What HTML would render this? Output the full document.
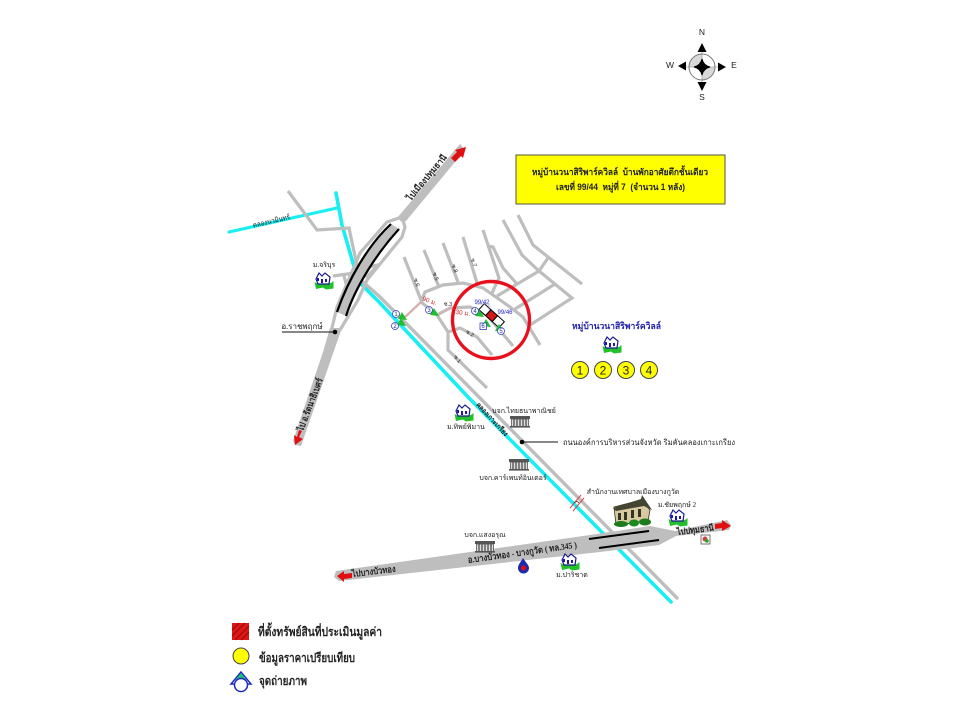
<!DOCTYPE html>
<html><head><meta charset="utf-8"><style>
html,body{margin:0;padding:0;background:#fff}
svg{display:block;filter:blur(.35px)}
text{font-family:"Liberation Serif","Noto Sans CJK SC",serif;fill:#222}
.s{font-family:"Liberation Sans","Noto Sans CJK SC",sans-serif}
.r{fill:none;stroke:#bebebe;stroke-width:3.2;stroke-linejoin:miter}
</style></head><body>
<svg width="960" height="720" viewBox="0 0 960 720" xmlns="http://www.w3.org/2000/svg">
<defs>
<g id="h">
<path d="M-9.500 1 L-8 8 L-1 6.500 L2 8.500 L9.500 7.500 L9.500 0 L7 2 L0 3 L-6 3 Z" fill="#22c02a"/>
<path d="M-8 -2 L-5 -8 L-2 -5 L1 -8 L6 -4 L5 3 L-6 3 Z" fill="#fff" stroke="#1a1a90" stroke-width="1.200"/>
<rect x="-3" y="-2" width="2" height="4" fill="#1a1ab0"/><rect x="1" y="-2" width="2" height="3" fill="#1a1ab0"/><rect x="-7" y="-3" width="2" height="3" fill="#1a1ab0"/>
</g>
<g id="f">
<rect x="-10" y="-6" width="20" height="3" fill="#555"/>
<rect x="-8.500" y="-3" width="17" height="8" fill="#ddd" stroke="#555" stroke-width=".8"/>
<path d="M-6 -3v8M-3 -3v8M0 -3v8M3 -3v8M6 -3v8" stroke="#444" stroke-width="1.200"/>
<rect x="-10" y="4" width="20" height="1.600" fill="#555"/>
</g>
<g id="t"><path d="M0 -4 L5 4 L-4 3 Z" fill="#1ec02c"/></g>
</defs>

<!-- compass -->
<circle cx="702" cy="67" r="13" fill="#d8d8d8"/>
<path d="M702 54 A13 13 0 0 1 715 67 L702 67Z M702 80 A13 13 0 0 1 689 67 L702 67Z" fill="#fff"/>
<circle cx="702" cy="67" r="13" fill="none" stroke="#777"/>
<path d="M702 50V84M685 67H719" stroke="#888" stroke-width=".6"/>
<path d="M702 59 Q703.500 65.500 710 67 Q703.500 68.500 702 75 Q700.500 68.500 694 67 Q700.500 65.500 702 59Z" fill="#000" stroke="#000" stroke-width="1"/>
<path d="M702 43l-4.500 9h9z M702 91l-4.500 -9h9z M678 66l8 -4.500v9z M726 67l-8 -4.500v9z" fill="#000"/>
<g font-size="8.500" text-anchor="middle"><text class="s" x="702" y="35">N</text><text class="s" x="702" y="100">S</text><text class="s" x="670" y="68">W</text><text class="s" x="734" y="68">E</text></g>

<!-- title box -->
<rect x="516" y="155" width="209" height="49" fill="#ff0" stroke="#554" stroke-width="1"/>
<text class="s" x="532" y="175" font-size="9" font-weight="bold" fill="#223" textLength="176" lengthAdjust="spacingAndGlyphs" xml:space="preserve">หมู่บ้านวนาสิริพาร์ควิลล์  บ้านพักอาศัยตึกชั้นเดียว</text>
<text class="s" x="556" y="190" font-size="9" font-weight="bold" fill="#223" textLength="129" lengthAdjust="spacingAndGlyphs" xml:space="preserve">เลขที่ 99/44  หมู่ที่ 7  (จำนวน 1 หลัง)</text>

<!-- canal -->
<polyline points="229,232 337,208" fill="none" stroke="#19eef2" stroke-width="3.200" stroke-linecap="round"/>
<polyline points="336,193 342,225 355,270 360,283 380,303 468,397 671,602" fill="none" stroke="#19eef2" stroke-width="3.600" stroke-linecap="round"/>
<!-- side road along canal -->
<polyline points="362,281 380,297 475,393 677,598" fill="none" stroke="#bebebe" stroke-width="3.400" stroke-linecap="round"/>
<polyline class="r" points="288,191 317,230 349,228 358,270"/>
<polyline class="r" points="333,276 355,273"/>
<polyline class="r" points="366,278 378,265 362,268"/>
<polyline class="r" points="344,276 347,287"/>

<!-- interchange -->
<polygon points="460,144 465,150 406,221 402,222 397,218" fill="#bebebe"/>
<polyline class="r" points="402,217 387,222 360,253 337,307 331,332" stroke-width="3"/>
<polyline class="r" points="402,217 405,227 402,237 367,280 358,300 340,330" stroke-width="3"/>
<path d="M391 224 C368 245 348 280 337 312 L346 316 C356 285 378 252 399 229Z" fill="#bebebe"/>
<path d="M391 224 C368 245 348 280 337 312" fill="none" stroke="#000" stroke-width="2.200"/>
<path d="M399 229 C378 252 356 285 346 316" fill="none" stroke="#000" stroke-width="2.200"/>
<polygon points="330,328 342,328 337,342 301,446 295,445 293,441 323,352" fill="#bebebe"/>
<path d="M302 431l-3 6 4 2 -8 6 -1 -10 3 2 2 -7z" fill="#e01010"/>
<path d="M466 147l-11 3 2 2 -6 6 4 4 6 -6 2 2z" fill="#e01010"/>

<!-- soi grid -->
<g class="r">
<polyline points="404,257 421,300"/>
<polyline points="424,250 439,287"/>
<polyline points="443,243 458,282"/>
<polyline points="463,237 477,283"/>
<polyline points="483,230 499,278 492,293"/>
<polyline points="421,302 425,292 443,285 463,283 483,288 510,307 523,317 540,345"/>
<polyline points="487,246 493,247 503,268 517,284"/>
<polyline points="497,296 539,271"/>
<polyline points="503,220 522,255 539,271 548,258"/>
<polyline points="518,215 533,245 582,284"/>
<polyline points="515,309 555,284"/>
<polyline points="539,271 572,298 530,325"/>
<polyline points="421,302 437,315 448,332 448,350 487,388"/>
<polyline points="437,315 450,308 470,307 487,315 513,346"/>
<polyline points="448,332 460,328 477,337 492,355"/>
</g>
<polyline points="421,302 404,318" fill="none" stroke="#d8b0b0" stroke-width="2.500"/>
<polyline points="437,315 452,308" fill="none" stroke="#d8b0b0" stroke-width="1.500"/>

<!-- red circle -->
<circle cx="491" cy="320" r="38.500" fill="none" stroke="#e8101c" stroke-width="3.400"/>

<!-- property -->
<g transform="translate(492,316) rotate(42)">
<rect x="-14" y="-4" width="9" height="8" fill="#fff" stroke="#000" stroke-width="1"/>
<rect x="-5" y="-4" width="9" height="8" fill="#d01818" stroke="#000" stroke-width="1"/>
<rect x="4" y="-4" width="9" height="8" fill="#fff" stroke="#000" stroke-width="1"/>
</g>
<text class="s" x="482" y="304" text-anchor="middle" style="fill:#2222cc" font-size="6">99/42</text>
<text class="s" x="505" y="314" text-anchor="middle" style="fill:#2222cc" font-size="6">99/46</text>
<polyline points="476,304 489,304 489,310" fill="none" stroke="#8888cc" stroke-width=".6"/>
<text class="s" x="430" y="303" font-size="6.500" style="fill:#d03030" text-anchor="middle" transform="rotate(20 430 300)">90 ม.</text>
<text class="s" x="463" y="315" font-size="6.500" style="fill:#d03030" text-anchor="middle" transform="rotate(8 463 313)">30 ม.</text>
<text class="s" x="448" y="306" font-size="5.500" text-anchor="middle">ซ.3</text>
<text class="s" font-size="5.500" transform="translate(415,283) rotate(70)" text-anchor="middle">ซ.6</text>
<text class="s" font-size="5.500" transform="translate(434,277) rotate(70)" text-anchor="middle">ซ.5</text>
<text class="s" font-size="5.500" transform="translate(453,269) rotate(70)" text-anchor="middle">ซ.8</text>
<text class="s" font-size="5.500" transform="translate(472,263) rotate(72)" text-anchor="middle">ซ.7</text>
<text class="s" font-size="5.500" transform="translate(469,335) rotate(30)" text-anchor="middle">ซ.2</text>
<text class="s" font-size="5.500" transform="translate(456,360) rotate(50)" text-anchor="middle">ซ.1</text>

<!-- photo markers -->
<use href="#t" x="402" y="316"/><use href="#t" x="401" y="322"/><use href="#t" x="434" y="312"/>
<use href="#t" x="479" y="313"/><use href="#t" x="499" y="328"/><use href="#t" x="486" y="323"/>
<g fill="#fff" stroke="#3344bb" stroke-width=".8">
<circle cx="396" cy="314" r="3.500"/><circle cx="395" cy="326" r="3.500"/><circle cx="429" cy="310" r="3.500"/>
<circle cx="475" cy="311" r="3.500"/><circle cx="501" cy="331" r="3.500"/><rect x="480" y="323" width="6.500" height="6.500"/>
</g>
<text class="s" font-size="6" x="396" y="316" text-anchor="middle" style="fill:#223399">1</text>
<text class="s" font-size="6" x="395" y="328" text-anchor="middle" style="fill:#223399">2</text>
<text class="s" font-size="6" x="429" y="312" text-anchor="middle" style="fill:#223399">3</text>
<text class="s" font-size="6" x="475" y="313" text-anchor="middle" style="fill:#223399">4</text>
<text class="s" font-size="6" x="501" y="333" text-anchor="middle" style="fill:#223399">5</text>
<text class="s" font-size="6" x="483" y="328" text-anchor="middle" style="fill:#223399">6</text>

<!-- main road -->
<polygon points="336,571 590,535 650,526 675,531 727,520 731,525 729,530 676,536 659,545 600,552 339,581 334,577" fill="#bebebe"/>
<line x1="589" y1="539" x2="649" y2="531" stroke="#000" stroke-width="2"/>
<line x1="599" y1="548" x2="659" y2="540" stroke="#000" stroke-width="2"/>
<path d="M337 576l7 -5v3l8 -1v5l-8 1v3z" fill="#e01010"/>
<path d="M731 526l-9 -6v3l-7 1v5l7 -1v3z" fill="#e01010"/>
<polyline points="573,511 584,498" stroke="#e04040" stroke-width="1" fill="none"/>
<polyline points="570,508 581,495" stroke="#e04040" stroke-width="1" fill="none"/>
<path d="M574 503 q3 -3 5 0" fill="none" stroke="#333" stroke-width=".7"/>

<!-- labels on roads -->
<text font-size="9" font-weight="bold" transform="translate(409,200) rotate(-50)" dominant-baseline="middle" textLength="57" lengthAdjust="spacingAndGlyphs">ไปเมืองปทุมธานี</text>
<text font-size="9" font-weight="bold" transform="translate(301,431) rotate(-69)" dominant-baseline="middle" textLength="56" lengthAdjust="spacingAndGlyphs">ไป อ.รัตนาธิเบศร์</text>
<text font-size="7" transform="translate(253,226) rotate(-13)" dominant-baseline="middle" textLength="38" lengthAdjust="spacingAndGlyphs">คลองนวมินทร์</text>
<text font-size="7" font-weight="bold" transform="translate(477,404) rotate(47)" dominant-baseline="middle" textLength="43" lengthAdjust="spacingAndGlyphs">คลองเกาะเกรียง</text>
<text font-size="9" font-weight="bold" transform="translate(352,575) rotate(-7)" dominant-baseline="middle" textLength="44" lengthAdjust="spacingAndGlyphs">ไปบางบัวทอง</text>
<text font-size="9" font-weight="bold" transform="translate(468,561) rotate(-8)" dominant-baseline="middle" textLength="110" lengthAdjust="spacingAndGlyphs">อ.บางบัวทอง - บางกูวัด ( ทล.345 )</text>
<text font-size="9" font-weight="bold" transform="translate(677,533) rotate(-7)" dominant-baseline="middle" textLength="37" lengthAdjust="spacingAndGlyphs">ไปปทุมธานี</text>

<!-- leaders -->
<line x1="282" y1="332" x2="335" y2="332" stroke="#111" stroke-width="1"/><circle cx="335" cy="332" r="2.300" fill="#000"/>
<text x="302" y="329" font-size="8" text-anchor="middle">อ.ราชพฤกษ์</text>
<line x1="522" y1="442" x2="558" y2="442" stroke="#111" stroke-width="1"/><circle cx="522" cy="442" r="2.300" fill="#000"/>
<text class="s" x="563" y="445" font-size="8" textLength="172" lengthAdjust="spacingAndGlyphs">ถนนองค์การบริหารส่วนจังหวัด ริมคันคลองเกาะเกรียง</text>

<!-- village icons -->
<use href="#h" x="324" y="281"/><text x="324" y="267" font-size="7" text-anchor="middle">ม.จริบุร</text>
<use href="#h" x="464" y="413"/><text x="466" y="429" font-size="7" text-anchor="middle">ม.ทิพย์พิมาน</text>
<use href="#h" x="570" y="562"/><text x="572" y="577" font-size="7" text-anchor="middle">ม.ปาริชาต</text>
<use href="#h" x="678" y="518"/><text x="677" y="507" font-size="7" text-anchor="middle">ม.ชัยพฤกษ์ 2</text>
<use href="#h" x="612" y="345"/>

<!-- factory icons -->
<use href="#f" x="520" y="422"/><text x="524" y="413" font-size="7" text-anchor="middle">บจก.ไทยธนาพาณิชย์</text>
<use href="#f" x="519" y="465"/><text x="513" y="480" font-size="7" text-anchor="middle">บจก.คาร์เพนท์อินเตอร์</text>
<use href="#f" x="485" y="547"/><text x="485" y="537" font-size="7" text-anchor="middle">บจก.แสงอรุณ</text>

<!-- PTT -->
<path d="M523 558 C520 563 518 565 518 568 A5.500 5.500 0 0 0 529 568 C529 565 526 563 523 558Z" fill="#1a2ab0"/>
<circle cx="523.500" cy="568" r="2.500" fill="#e01010"/>
<!-- small shop -->
<rect x="701" y="535" width="9" height="9" fill="#fff" stroke="#555" stroke-width=".8"/>
<circle cx="705" cy="539" r="2.500" fill="#c44"/><circle cx="707" cy="541" r="1.800" fill="#2a2"/>

<!-- city hall -->
<text x="633" y="494" font-size="7" text-anchor="middle">สำนักงานเทศบาลเมืองบางกูวัด</text>
<polygon points="614,507 641,500 650,510 648,521 616,525" fill="#d8c9a0" stroke="#332" stroke-width=".8"/>
<polygon points="613,508 641,499 642,495 652,510 644,506 616,511" fill="#443"/>
<path d="M618 513h3v7h-3z M624 512h3v8h-3z M631 510h3v8h-3z M638 509h3v8h-3z" fill="#332"/>
<ellipse cx="621" cy="524" rx="7" ry="3" fill="#1d7a1d"/><ellipse cx="634" cy="523" rx="5" ry="3.500" fill="#1d8a1d"/><ellipse cx="645" cy="522" rx="6" ry="3.500" fill="#1d7a1d"/>

<!-- village legend -->
<text class="s" x="572" y="329" font-size="9" font-weight="bold" style="fill:#2222aa" textLength="89" lengthAdjust="spacingAndGlyphs">หมู่บ้านวนาสิริพาร์ควิลล์</text>
<g fill="#ff0" stroke="#444" stroke-width="1">
<circle cx="580" cy="370" r="8.500"/><circle cx="603" cy="370" r="8.500"/><circle cx="626" cy="370" r="8.500"/><circle cx="649" cy="370" r="8.500"/>
</g>
<text class="s" x="580" y="374.500" font-size="12" text-anchor="middle">1</text>
<text class="s" x="603" y="374.500" font-size="12" text-anchor="middle">2</text>
<text class="s" x="626" y="374.500" font-size="12" text-anchor="middle">3</text>
<text class="s" x="649" y="374.500" font-size="12" text-anchor="middle">4</text>

<!-- legend -->
<rect x="232" y="623" width="17" height="17" fill="#e01515"/>
<path d="M232 630l7 -7M232 636l13 -13M235 640l14 -14M241 640l8 -8" stroke="#8a1010" stroke-width="1"/>
<text x="258" y="636" font-size="12.500" font-weight="bold" textLength="124" lengthAdjust="spacingAndGlyphs">ที่ตั้งทรัพย์สินที่ประเมินมูลค่า</text>
<circle cx="241" cy="656" r="8" fill="#ff0" stroke="#444" stroke-width="1"/>
<text x="259" y="662" font-size="12.500" font-weight="bold" textLength="96" lengthAdjust="spacingAndGlyphs">ข้อมูลราคาเปรียบเทียบ</text>
<polygon points="241,672 231,684 251,684" fill="#fff" stroke="#1a2ac0" stroke-width="1.500"/>
<polygon points="241,673 235.500,680 246.500,680" fill="#1ec070"/>
<circle cx="241" cy="685" r="6.500" fill="#fff" stroke="#1a2ac0" stroke-width="1.500"/>
<text x="259" y="685" font-size="12.500" font-weight="bold" textLength="48" lengthAdjust="spacingAndGlyphs">จุดถ่ายภาพ</text>
</svg>
</body></html>
